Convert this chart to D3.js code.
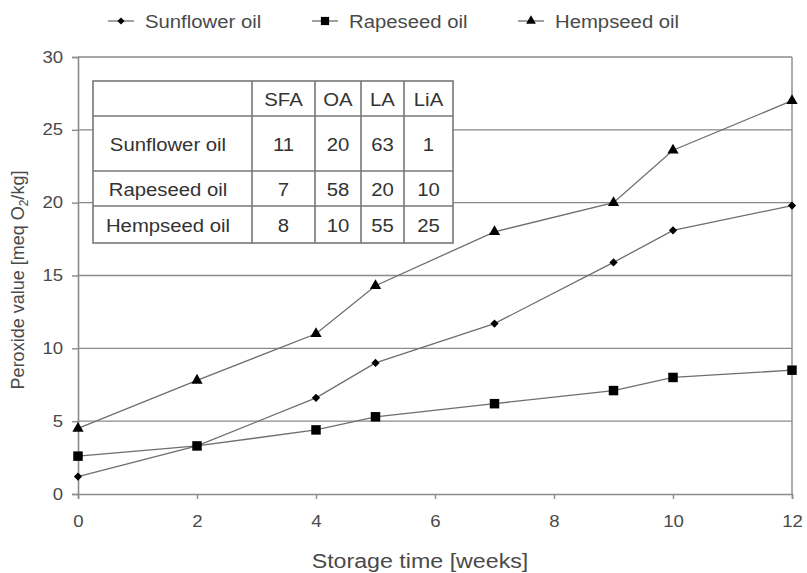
<!DOCTYPE html>
<html>
<head>
<meta charset="utf-8">
<script src="https://cdn.jsdelivr.net/npm/d3@7/dist/d3.min.js"></script>
<style>
  html, body { margin: 0; padding: 0; background: #fff; }
  svg { display: block; font-family: "Liberation Sans", Arial, sans-serif; }
</style>
</head>
<body>
<svg id="chart" width="807" height="573"></svg>
<script>
// Storage time (weeks) and peroxide values (meq O2/kg)
const weeks = [0, 2, 4, 5, 7, 9, 10, 12];
const sunflower = [1.2, 3.3, 6.6, 9.0, 11.7, 15.9, 18.1, 19.8];
const rapeseed  = [2.6, 3.3, 4.4, 5.3, 6.2, 7.1, 8.0, 8.5];
const hempseed  = [4.5, 7.8, 11.0, 14.3, 18.0, 20.0, 23.6, 27.0];

const seriesNames = ["Sunflower oil", "Rapeseed oil", "Hempseed oil"];
const seriesSymbols = ["diamond", "square", "triangle"];

const xTicks = [0, 2, 4, 6, 8, 10, 12];
const yTicks = [0, 5, 10, 15, 20, 25, 30];

// Fatty acid composition table
const tableHeader = ["", "SFA", "OA", "LA", "LiA"];
const tableRows = [
  ["Sunflower oil", 11, 20, 63, 1],
  ["Rapeseed oil", 7, 58, 20, 10],
  ["Hempseed oil", 8, 10, 55, 25]
];

const series = [sunflower, rapeseed, hempseed].map((vals, i) => ({
  name: seriesNames[i],
  symbol: seriesSymbols[i],
  points: weeks.map((w, j) => ({ x: w, y: vals[j] }))
}));

const svg = d3.select("#chart");
const margin = { left: 78, right: 15, top: 57, bottom: 79 };
const W = 807, H = 573;

const x = d3.scaleLinear().domain([0, 12]).range([margin.left, W - margin.right]);
const y = d3.scaleLinear().domain([0, 30]).range([H - margin.bottom, margin.top]);

const gridColor = "#8a8a8a";
const textColor = "#4a4a4a";
const WIDEN = 1.16;

// widen horizontal text a little (wide rendering of the sans face)
function widen(sel, k = WIDEN) {
  sel.each(function () {
    const L = this.getComputedTextLength();
    this.setAttribute("textLength", (L * k).toFixed(2));
    this.setAttribute("lengthAdjust", "spacingAndGlyphs");
  });
}

// horizontal gridlines
svg.append("g").selectAll("line").data(yTicks.filter(t => t > 0)).join("line")
  .attr("x1", x(0)).attr("x2", x(12))
  .attr("y1", d => y(d)).attr("y2", d => y(d))
  .attr("stroke", gridColor).attr("stroke-width", 1.4);

// right border
svg.append("line")
  .attr("x1", x(12)).attr("x2", x(12))
  .attr("y1", y(30)).attr("y2", y(0))
  .attr("stroke", gridColor).attr("stroke-width", 1.4);

// axes
const yAxis = d3.axisLeft(y).tickValues(yTicks).tickSize(6).tickPadding(9);
const gy = svg.append("g").attr("transform", `translate(${x(0)},0)`).call(yAxis);
const xAxis = d3.axisBottom(x).tickValues(xTicks).tickSize(5).tickPadding(17);
const gx = svg.append("g").attr("transform", `translate(0,${y(0)})`).call(xAxis);
[gy, gx].forEach(g => {
  g.select(".domain").attr("stroke", gridColor).attr("stroke-width", 1.6);
  g.selectAll(".tick line").attr("stroke", gridColor).attr("stroke-width", 1.4);
  g.selectAll(".tick text").attr("fill", textColor).attr("font-size", 16)
    .attr("font-family", "Liberation Sans, Arial, sans-serif");
  widen(g.selectAll(".tick text"));
});

// axis titles
svg.append("text")
  .attr("x", 420).attr("y", 568)
  .attr("text-anchor", "middle").attr("font-size", 20).attr("fill", textColor)
  .text("Storage time [weeks]")
  .call(widen);

const yt = svg.append("text")
  .attr("transform", `translate(24,280) rotate(-90)`)
  .attr("text-anchor", "middle").attr("font-size", 18).attr("fill", textColor);
yt.append("tspan").text("Peroxide value [meq O");
yt.append("tspan").attr("font-size", 12).attr("dy", 4).text("2");
yt.append("tspan").attr("dy", -4).text("/kg]");

// table
const colEdges = [93, 252, 315, 361, 404, 453];
const rowEdges = [81, 116, 171, 206, 243];
const tbl = svg.append("g");
tbl.append("rect")
  .attr("x", colEdges[0]).attr("y", rowEdges[0])
  .attr("width", colEdges[5] - colEdges[0]).attr("height", rowEdges[4] - rowEdges[0])
  .attr("fill", "#fff").attr("stroke", "#777").attr("stroke-width", 1.6);
tbl.selectAll("line.r").data(rowEdges.slice(1, 4)).join("line")
  .attr("x1", colEdges[0]).attr("x2", colEdges[5])
  .attr("y1", d => d).attr("y2", d => d)
  .attr("stroke", "#777").attr("stroke-width", 1.6);
tbl.selectAll("line.c").data(colEdges.slice(1, 5)).join("line")
  .attr("y1", rowEdges[0]).attr("y2", rowEdges[4])
  .attr("x1", d => d).attr("x2", d => d)
  .attr("stroke", "#777").attr("stroke-width", 1.6);
const allRows = [tableHeader].concat(tableRows);
allRows.forEach((row, ri) => {
  const cy = (rowEdges[ri] + rowEdges[ri + 1]) / 2 + 7;
  row.forEach((cell, ci) => {
    if (cell === "") return;
    const cx = ci === 0 ? 168 : (colEdges[ci] + colEdges[ci + 1]) / 2;
    tbl.append("text")
      .attr("x", cx).attr("y", cy)
      .attr("text-anchor", "middle").attr("font-size", 17.5).attr("fill", "#333")
      .text(cell)
      .call(widen);
  });
});

// lines and markers
const line = d3.line().x(d => x(d.x)).y(d => y(d.y));
const diamond = {
  draw(ctx, size) {
    const r = Math.sqrt(size / 2);
    ctx.moveTo(0, -r); ctx.lineTo(r, 0); ctx.lineTo(0, r); ctx.lineTo(-r, 0); ctx.closePath();
  }
};
const symbolType = { diamond: diamond, square: d3.symbolSquare, triangle: d3.symbolTriangle };
const symbolSize = { diamond: 34, square: 90, triangle: 55 };

series.forEach(s => {
  svg.append("path").datum(s.points)
    .attr("d", line).attr("fill", "none")
    .attr("stroke", "#6e6e6e").attr("stroke-width", 1.3);
  svg.append("g").selectAll("path").data(s.points).join("path")
    .attr("transform", d => `translate(${x(d.x)},${y(d.y)})`)
    .attr("d", d3.symbol(symbolType[s.symbol], symbolSize[s.symbol]))
    .attr("fill", "#000");
});

// legend
const legendX = [121, 325, 531];
const lg = svg.append("g");
series.forEach((s, i) => {
  const cx = legendX[i], cy = 21;
  lg.append("line").attr("x1", cx - 13).attr("x2", cx + 13)
    .attr("y1", cy).attr("y2", cy).attr("stroke", "#6e6e6e").attr("stroke-width", 1.3);
  lg.append("path").attr("transform", `translate(${cx},${cy})`)
    .attr("d", d3.symbol(symbolType[s.symbol], symbolSize[s.symbol] * 0.75)).attr("fill", "#000");
  lg.append("text").attr("x", cx + 24).attr("y", cy + 6.5)
    .attr("font-size", 17.5).attr("fill", textColor).text(s.name)
    .call(widen);
});
</script>
</body>
</html>
